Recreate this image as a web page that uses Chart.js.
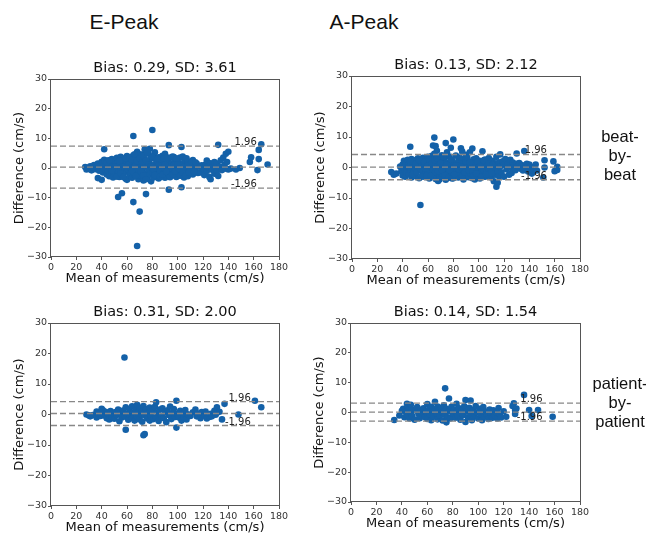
<!DOCTYPE html>
<html>
<head>
<meta charset="utf-8">
<title>Bland-Altman: E-Peak / A-Peak</title>
<script src="https://cdn.jsdelivr.net/npm/chart.js@4.4.1/dist/chart.umd.min.js"></script>
<style>
  html, body { margin: 0; padding: 0; background: #fff; overflow: hidden; }
  #page { position: relative; width: 646px; height: 538px; overflow: hidden; background: #fff; }
  #page canvas { position: absolute; }
  .col-head { position: absolute; top: 10px; width: 120px; text-align: center; color: #111;
              font: 21px "Liberation Sans", Arial, sans-serif; line-height: 24px; }
  .row-head { position: absolute; width: 80px; text-align: center; color: #111;
              font: 16.5px "Liberation Sans", Arial, sans-serif; line-height: 19px; }
</style>
</head>
<body>
<div id="page"></div>
<script>
var xTicks = [0, 20, 40, 60, 80, 100, 120, 140, 160, 180];
var yTicks = [-30, -20, -10, 0, 10, 20, 30];
var colTitles = ["E-Peak", "A-Peak"];
var rowTitles = [["beat-", "by-", "beat"], ["patient-", "by-", "patient"]];

// order: E beat, A beat, E patient, A patient
var bias = [0.29, 0.13, 0.31, 0.14];
var sd = [3.61, 2.12, 2.00, 1.54];

// [mean, difference] pairs, cm/s
var ePeakBeat = [
  [27,0.3],[28,-0.5],[29,0.1],[30,-0.3],[31,0.6],[32,-0.8],[33,0.2],[34,1.0],[35,-0.4],[36,0.5],
  [37,-3.4],[37,1.5],[38,-0.9],[39,0.8],[40,-4.0],[40,2.1],[41,-1.5],[41,0.4],[42,6.3],[42,2.8],
  [43,-0.6],[43,1.2],[44,-2.2],[44,0.0],[45,2.5],[45,-1.0],[46,0.7],[46,-2.8],[47,1.8],[47,-0.3],
  [48,3.0],[48,-1.7],[49,0.9],[49,-3.2],[50,2.2],[50,-0.7],[51,1.3],[51,-2.4],[52,3.4],[52,0.2],
  [53,-9.8],[53,-1.2],[53,2.0],[54,-3.0],[54,0.8],[55,3.8],[55,-0.5],[56,-8.5],[56,1.7],[56,-2.0],
  [57,3.2],[57,0.3],[58,-1.4],[58,2.6],[59,-3.6],[59,0.9],[60,4.0],[60,-4.0],[60,1.4],[61,-0.8],
  [61,2.9],[62,-2.5],[62,0.5],[63,3.6],[63,-1.6],[64,1.0],[64,-3.3],[65,10.8],[65,-11.5],[65,4.3],
  [65,-0.2],[66,2.2],[66,-2.1],[67,3.9],[67,0.6],[68,-26.3],[68,5.5],[68,-1.3],[69,1.8],[69,-3.8],
  [70,-14.7],[70,4.6],[70,0.1],[71,-2.7],[71,2.6],[72,4.5],[72,-0.9],[73,1.2],[73,-4.2],[74,6.3],
  [74,-1.8],[74,3.0],[75,-8.8],[75,0.4],[76,-3.0],[76,2.0],[77,4.8],[77,-0.6],[78,6.5],[78,1.4],
  [78,-2.3],[79,-4.5],[79,3.2],[80,12.8],[80,0.0],[80,-1.5],[81,4.0],[81,-3.2],[82,5.3],[82,1.1],
  [83,-0.9],[83,2.7],[84,-2.6],[84,0.5],[85,-3.5],[85,3.6],[86,1.5],[86,-1.1],[87,-2.9],[87,2.4],
  [88,0.2],[88,4.1],[89,-1.8],[89,1.0],[90,4.8],[90,-3.3],[91,0.7],[91,2.8],[92,-2.0],[92,1.9],
  [93,7.7],[93,-7.3],[93,0.0],[94,3.4],[94,-1.2],[95,-2.7],[95,1.4],[96,3.9],[96,-0.4],[97,3.7],
  [97,-1.9],[98,0.8],[98,2.3],[99,-3.0],[99,1.2],[100,3.2],[100,-0.8],[101,-2.4],[101,1.6],[102,0.3],
  [102,3.5],[103,7.1],[103,-6.5],[103,-1.4],[104,3.9],[104,0.6],[105,-3.2],[105,1.8],[106,-0.5],[106,2.5],
  [107,-1.9],[107,0.9],[108,2.2],[108,-2.8],[109,0.1],[110,1.4],[110,-1.5],[111,-0.3],[112,2.7],[112,-2.2],
  [113,0.8],[114,-0.9],[115,1.5],[116,-1.7],[117,0.4],[118,-1.5],[119,0.9],[120,-0.3],[121,-2.4],[122,1.2],
  [123,2.5],[123,-1.0],[124,0.3],[125,-3.0],[126,-3.8],[126,1.6],[127,-0.6],[128,0.7],[129,2.0],[129,-1.9],
  [130,0.2],[131,-1.0],[131,1.5],[132,7.8],[132,-2.7],[133,0.5],[134,2.6],[135,-0.7],[136,3.5],[137,1.0],
  [138,4.8],[138,-0.2],[139,2.0],[140,5.5],[140,-0.5],[142,-0.2],[146,-0.5],[149,0.0],[157,2.0],[158,3.6],
  [163,-0.7],[164,3.0],[164,6.1],[166,8.0],[171,1.2],
  [44,1.9],[46,2.6],[48,-0.9],[50,0.4],[52,-2.9],[54,2.4],[55,-1.8],[57,-3.0],[58,0.5],[59,3.3],
  [61,1.1],[62,3.5],[63,0.0],[64,-1.0],[64,2.8],[66,0.4],[66,4.6],[67,-2.6],[68,2.4],[69,-0.5],
  [70,3.3],[71,-1.2],[72,1.9],[73,-2.5],[73,4.0],[75,2.6],[75,-3.8],[76,5.2],[77,1.2],[79,0.6],
  [80,3.8],[81,-0.4],[82,-2.4],[84,3.1],[85,0.9],[86,-3.0],[87,0.8],[88,-2.3],[89,3.2],[90,1.1],
  [91,-1.3],[92,3.5],[94,-3.1],[95,0.5],[96,-2.2],[97,1.0],[98,-1.2],[99,3.1],[100,1.2],[101,-0.3],
  [102,-2.6],[104,-1.6],[105,0.4],[106,-2.6],[107,3.3],[108,0.8],[109,-1.5],[111,2.0],[113,-1.3],[114,1.9]
];

var aPeakBeat = [
  [31,-1.5],[33,-2.4],[35,-2.0],[38,0.3],[39,-1.2],[40,1.0],[40,-2.6],[41,2.2],[41,-0.4],[42,0.8],
  [42,-3.0],[43,1.6],[43,-1.5],[44,0.2],[44,2.5],[45,-2.2],[45,1.1],[46,6.8],[46,-0.7],[47,2.8],
  [47,-3.3],[48,0.5],[48,1.9],[49,-1.6],[49,2.4],[50,-0.3],[50,-2.8],[51,1.4],[52,3.0],[52,-1.1],
  [53,0.6],[53,-3.5],[54,-12.3],[54,2.1],[55,-0.8],[55,1.0],[56,-2.4],[56,3.2],[57,0.3],[57,-1.7],
  [58,2.6],[58,-3.1],[59,1.2],[59,-0.5],[60,3.5],[60,-2.0],[61,0.9],[61,-3.6],[62,2.3],[62,-1.3],
  [63,0.0],[63,3.8],[64,7.2],[64,-2.7],[64,1.5],[65,9.8],[65,-0.9],[65,4.5],[66,7.0],[66,2.0],
  [66,-3.8],[67,5.5],[67,0.4],[67,-1.8],[68,3.0],[68,-4.4],[69,1.1],[69,-2.5],[70,2.7],[70,-0.6],
  [71,4.0],[71,-3.2],[72,0.8],[72,1.9],[73,-1.4],[73,3.3],[74,8.0],[74,-4.0],[74,0.2],[75,5.0],
  [75,-2.2],[76,1.6],[76,-0.3],[77,3.6],[77,-3.0],[78,6.5],[78,0.9],[79,-1.7],[79,2.4],[80,9.2],
  [80,-0.5],[80,-3.5],[81,1.3],[82,3.9],[82,-2.4],[83,0.4],[83,-1.1],[84,2.2],[84,-3.3],[85,0.7],
  [86,6.3],[86,-1.9],[87,5.2],[87,1.5],[88,-0.8],[88,-3.9],[89,2.9],[89,0.1],[90,-2.6],[90,4.2],
  [91,1.0],[91,-1.4],[92,-3.2],[92,2.0],[93,5.0],[93,-0.2],[94,-2.0],[94,1.6],[95,6.2],[95,-3.5],
  [96,0.5],[96,2.7],[97,-1.2],[97,-3.9],[98,1.3],[98,3.0],[99,-0.7],[99,-2.8],[100,0.9],[100,2.3],
  [101,-1.8],[101,-3.6],[102,1.7],[102,0.0],[103,5.3],[103,-2.3],[104,1.0],[104,-0.9],[105,2.6],[105,-3.0],
  [106,0.4],[106,-1.6],[107,1.9],[107,-2.7],[108,3.1],[108,-0.4],[109,-1.9],[109,1.2],[110,-3.3],[110,0.5],
  [111,2.2],[111,-1.0],[112,-4.5],[112,1.4],[113,-2.4],[113,0.2],[114,-6.3],[114,3.5],[115,-5.0],[115,-1.2],
  [116,1.7],[116,-2.9],[117,4.3],[117,0.3],[118,-1.6],[119,2.0],[120,0.9],[120,-3.0],[121,2.8],[122,-0.6],
  [123,1.1],[124,-2.4],[125,2.5],[125,0.0],[126,-1.8],[127,1.6],[128,0.6],[129,-0.9],[130,4.6],[130,1.2],
  [131,0.4],[132,1.5],[133,-0.4],[134,0.8],[135,-1.0],[136,5.4],[136,0.5],[137,-0.5],[138,1.2],[139,-1.3],
  [140,1.0],[141,0.2],[142,-2.0],[143,-1.1],[145,1.0],[146,-1.0],[151,-3.3],[152,2.4],[152,0.0],[159,2.0],
  [160,-1.2],[162,0.2],[162,-0.8],
  [45,0.2],[46,2.0],[48,-2.4],[50,1.2],[51,-1.6],[53,2.4],[54,-0.6],[55,-3.0],[57,1.9],[58,-0.4],
  [59,-2.7],[60,0.7],[61,2.6],[62,-2.8],[63,1.3],[64,-0.5],[65,2.4],[66,-1.5],[67,3.0],[68,-1.2],
  [69,-3.9],[70,1.4],[71,-0.9],[72,3.5],[73,-2.6],[75,1.0],[76,-3.4],[77,-0.8],[78,2.6],[79,-3.6],
  [81,-2.2],[82,0.6],[84,-0.6],[85,3.3],[86,0.2],[87,-3.0],[89,-1.6],[90,1.9],[91,3.3],[92,-0.9],
  [93,1.6],[95,-1.1],[96,-2.6],[98,-2.0],[99,1.9],[101,0.4],[102,-3.1],[104,2.4],[106,-2.3],[108,1.4],
  [110,-1.8],[111,0.9]
];

var ePeakPatient = [
  [28,0.0],[30,-0.3],[31,-0.6],[33,-0.2],[36,1.0],[36,-1.0],[37,0.4],[39,-0.5],[40,1.9],[41,1.4],
  [42,-0.3],[43,0.9],[44,-1.2],[45,0.2],[46,-1.6],[47,1.1],[48,-0.7],[49,0.5],[50,-1.4],[51,0.8],
  [52,-0.2],[53,1.6],[54,-2.2],[55,0.4],[56,-1.0],[57,1.3],[58,18.7],[58,-0.6],[59,-5.0],[59,2.4],
  [60,0.3],[61,-1.7],[62,1.8],[63,-0.4],[64,2.7],[64,-1.2],[65,0.6],[66,-2.0],[67,1.5],[68,3.2],
  [68,-0.8],[69,0.9],[70,-1.6],[70,2.2],[71,0.1],[72,-2.4],[72,1.2],[73,-6.8],[73,2.8],[74,-6.4],
  [74,-0.3],[75,1.7],[76,-1.3],[77,0.5],[78,2.3],[78,-2.0],[79,-0.6],[80,1.1],[81,-1.5],[82,2.5],
  [83,4.0],[83,-0.9],[84,0.6],[85,-2.1],[86,1.6],[87,-0.4],[88,2.0],[89,-1.2],[90,0.8],[91,-2.5],
  [92,1.4],[93,-0.2],[94,2.6],[95,-1.5],[96,0.5],[97,1.8],[98,-0.8],[99,4.5],[99,-4.3],[100,0.2],
  [101,-1.0],[102,1.2],[103,-2.0],[104,0.4],[105,-0.9],[106,1.5],[107,-1.6],[108,0.1],[110,-0.5],[112,0.7],
  [114,1.6],[115,-0.6],[116,0.3],[118,-1.2],[119,0.8],[121,-0.4],[122,1.0],[123,-1.3],[125,-0.8],[126,0.2],
  [127,-0.6],[129,1.2],[130,-0.1],[131,2.4],[131,0.6],[133,0.9],[135,-1.6],[137,3.5],[148,0.0],[161,4.5],
  [166,2.4]
];

var aPeakPatient = [
  [34,-2.5],[38,-1.0],[40,0.6],[41,1.2],[42,-1.6],[43,0.3],[44,2.9],[44,-0.8],[45,1.5],[46,-2.0],
  [47,2.6],[47,0.0],[48,-1.2],[49,1.0],[50,-2.4],[51,0.7],[52,1.8],[53,-0.5],[54,-1.9],[55,0.9],
  [56,-0.3],[57,1.4],[58,-1.5],[59,0.2],[60,2.8],[60,-2.2],[61,0.8],[62,-0.7],[63,1.9],[63,-2.6],
  [64,0.4],[65,-1.3],[66,3.6],[66,1.1],[67,-0.2],[68,-2.3],[68,2.0],[69,0.6],[70,-1.0],[71,1.6],
  [72,-2.7],[72,0.1],[73,2.4],[74,8.1],[74,-0.8],[75,1.2],[75,-3.3],[76,-1.6],[77,4.7],[77,0.5],
  [78,-2.0],[79,1.9],[80,-0.4],[81,0.9],[82,-1.8],[83,2.9],[83,0.2],[84,-1.1],[85,1.4],[86,-2.4],
  [87,0.6],[88,-0.9],[89,2.1],[90,4.2],[90,-3.2],[91,0.3],[92,-1.7],[93,1.6],[94,4.0],[94,-0.5],
  [95,-2.6],[96,0.9],[97,-1.2],[98,2.2],[99,0.0],[100,-2.0],[101,1.2],[102,-0.7],[103,0.5],[103,-2.6],
  [104,1.8],[105,-1.4],[106,0.3],[107,-0.9],[108,-2.2],[109,1.0],[110,-0.3],[111,-1.8],[112,0.7],[113,-1.1],
  [114,0.1],[115,-2.0],[116,1.5],[117,-0.6],[118,-1.7],[120,0.4],[122,-1.4],[127,2.2],[128,3.1],[129,0.8],
  [129,-0.5],[130,1.3],[136,5.9],[140,0.8],[142,-1.2],[147,0.8],[158.5,-1.4]
];

var panels = [ePeakBeat, aPeakBeat, ePeakPatient, aPeakPatient];

// axes rectangles on the page (left, top, width, height)
var boxes = [
  { x: 51,  y: 79,  w: 228, h: 178 },
  { x: 352, y: 76,  w: 228, h: 183 },
  { x: 51,  y: 323, w: 228, h: 183 },
  { x: 351, y: 323, w: 229, h: 179 }
];
var PAGE_H = 538;
var PAD_L = 45, PAD_T = 22, PAD_R = 12;
var XLABEL_GAP = 22;      // plot bottom -> centre of x axis label
var DOT = "#1461a8";
var page = document.getElementById("page");

function fmt(v) {
  return v < 0 ? "\u2212" + (-v) : String(v);
}

// full box round the plot area
var frame = {
  id: "frame",
  afterDatasetsDraw: function(c) {
    var a = c.chartArea, ctx = c.ctx;
    ctx.save();
    ctx.strokeStyle = "#555";
    ctx.lineWidth = 1;
    ctx.strokeRect(Math.round(a.left) - 0.5, Math.round(a.top) + 0.5,
                   Math.round(a.right - a.left) + 1, Math.round(a.bottom - a.top) - 1);
    ctx.restore();
  }
};

// "1.96" / "-1.96" tags sitting on the limit lines
var limitTags = {
  id: "limitTags",
  afterDatasetsDraw: function(c, args, o) {
    var ctx = c.ctx, px = c.scales.x.getPixelForValue(o.at);
    ctx.save();
    ctx.font = '10px "DejaVu Sans"';
    ctx.fillStyle = "#222";
    ctx.textAlign = "right";
    ctx.textBaseline = "alphabetic";
    ctx.fillText("1.96", px, c.scales.y.getPixelForValue(o.hi) - 1);
    ctx.fillText("-1.96", px, c.scales.y.getPixelForValue(o.lo) - 1);
    ctx.restore();
  }
};

function hline(v) {
  return {
    data: [{ x: xTicks[0], y: v }, { x: xTicks[xTicks.length - 1], y: v }],
    showLine: true,
    borderColor: "#888",
    borderWidth: 1.4,
    borderDash: [6, 3],
    pointRadius: 0,
    order: 0
  };
}

function axis(ticks, label, horiz, padB) {
  var lh = 13 * 1.2;
  return {
    type: "linear",
    min: ticks[0],
    max: ticks[ticks.length - 1],
    afterBuildTicks: function(s) { s.ticks = ticks.map(function(v) { return { value: v }; }); },
    afterFit: function(s) { if (horiz) s.height = padB; else s.width = PAD_L; },
    grid: { drawOnChartArea: false, drawTicks: true, tickLength: 3, color: "#555" },
    border: { display: false },
    ticks: { font: { family: "DejaVu Sans", size: 9.5 }, color: "#333", padding: horiz ? 2 : 1,
             autoSkip: false, maxRotation: 0, callback: fmt },
    title: { display: true, text: label, color: "#111", font: { family: "DejaVu Sans", size: 13 },
             padding: horiz ? { top: 0, bottom: padB - XLABEL_GAP - lh / 2 } : { top: 5.7, bottom: 0 } }
  };
}

function makePanel(i) {
  var b = boxes[i], pts = panels[i];
  // keep each canvas inside the page
  var padB = Math.min(34, PAGE_H - (b.y + b.h));
  var cv = document.createElement("canvas");
  cv.width = b.w + PAD_L + PAD_R;
  cv.height = b.h + PAD_T + padB;
  cv.style.left = (b.x - PAD_L) + "px";
  cv.style.top = (b.y - PAD_T) + "px";
  page.appendChild(cv);

  var hi = bias[i] + 1.96 * sd[i], lo = bias[i] - 1.96 * sd[i];
  var maxX = Math.max.apply(null, pts.map(function(p) { return p[0]; }));

  new Chart(cv, {
    type: "scatter",
    data: {
      datasets: [
        { data: pts.map(function(p) { return { x: p[0], y: p[1] }; }),
          backgroundColor: DOT, borderWidth: 0, pointRadius: 3.3, pointHoverRadius: 3.3, order: 1 },
        hline(hi), hline(bias[i]), hline(lo)
      ]
    },
    options: {
      responsive: false,
      animation: false,
      devicePixelRatio: 1,
      layout: { padding: { left: 0, top: 0, right: PAD_R, bottom: 0 } },
      scales: {
        x: axis(xTicks, "Mean of measurements (cm/s)", true, padB),
        y: axis(yTicks, "Difference (cm/s)", false, padB)
      },
      plugins: {
        legend: { display: false },
        tooltip: { enabled: false },
        title: {
          display: true,
          fullSize: false,
          text: "Bias: " + bias[i].toFixed(2) + ", SD: " + sd[i].toFixed(2),
          color: "#111",
          font: { family: "DejaVu Sans", size: 14.5, weight: "normal" },
          padding: { top: 2.8, bottom: 1.8 }
        },
        limitTags: { at: 0.95 * maxX, hi: hi, lo: lo }
      }
    },
    plugins: [frame, limitTags]
  });
}

for (var i = 0; i < panels.length; i++) makePanel(i);

// column and row headings
var colX = [124, 364];
colTitles.forEach(function(t, k) {
  var d = document.createElement("div");
  d.className = "col-head";
  d.style.left = (colX[k] - 60) + "px";
  d.textContent = t;
  page.appendChild(d);
});
var rowY = [127, 374];
rowTitles.forEach(function(lines, k) {
  var d = document.createElement("div");
  d.className = "row-head";
  d.style.left = (620 - 40) + "px";
  d.style.top = rowY[k] + "px";
  d.innerHTML = lines.join("<br>");
  page.appendChild(d);
});
</script>
</body>
</html>
